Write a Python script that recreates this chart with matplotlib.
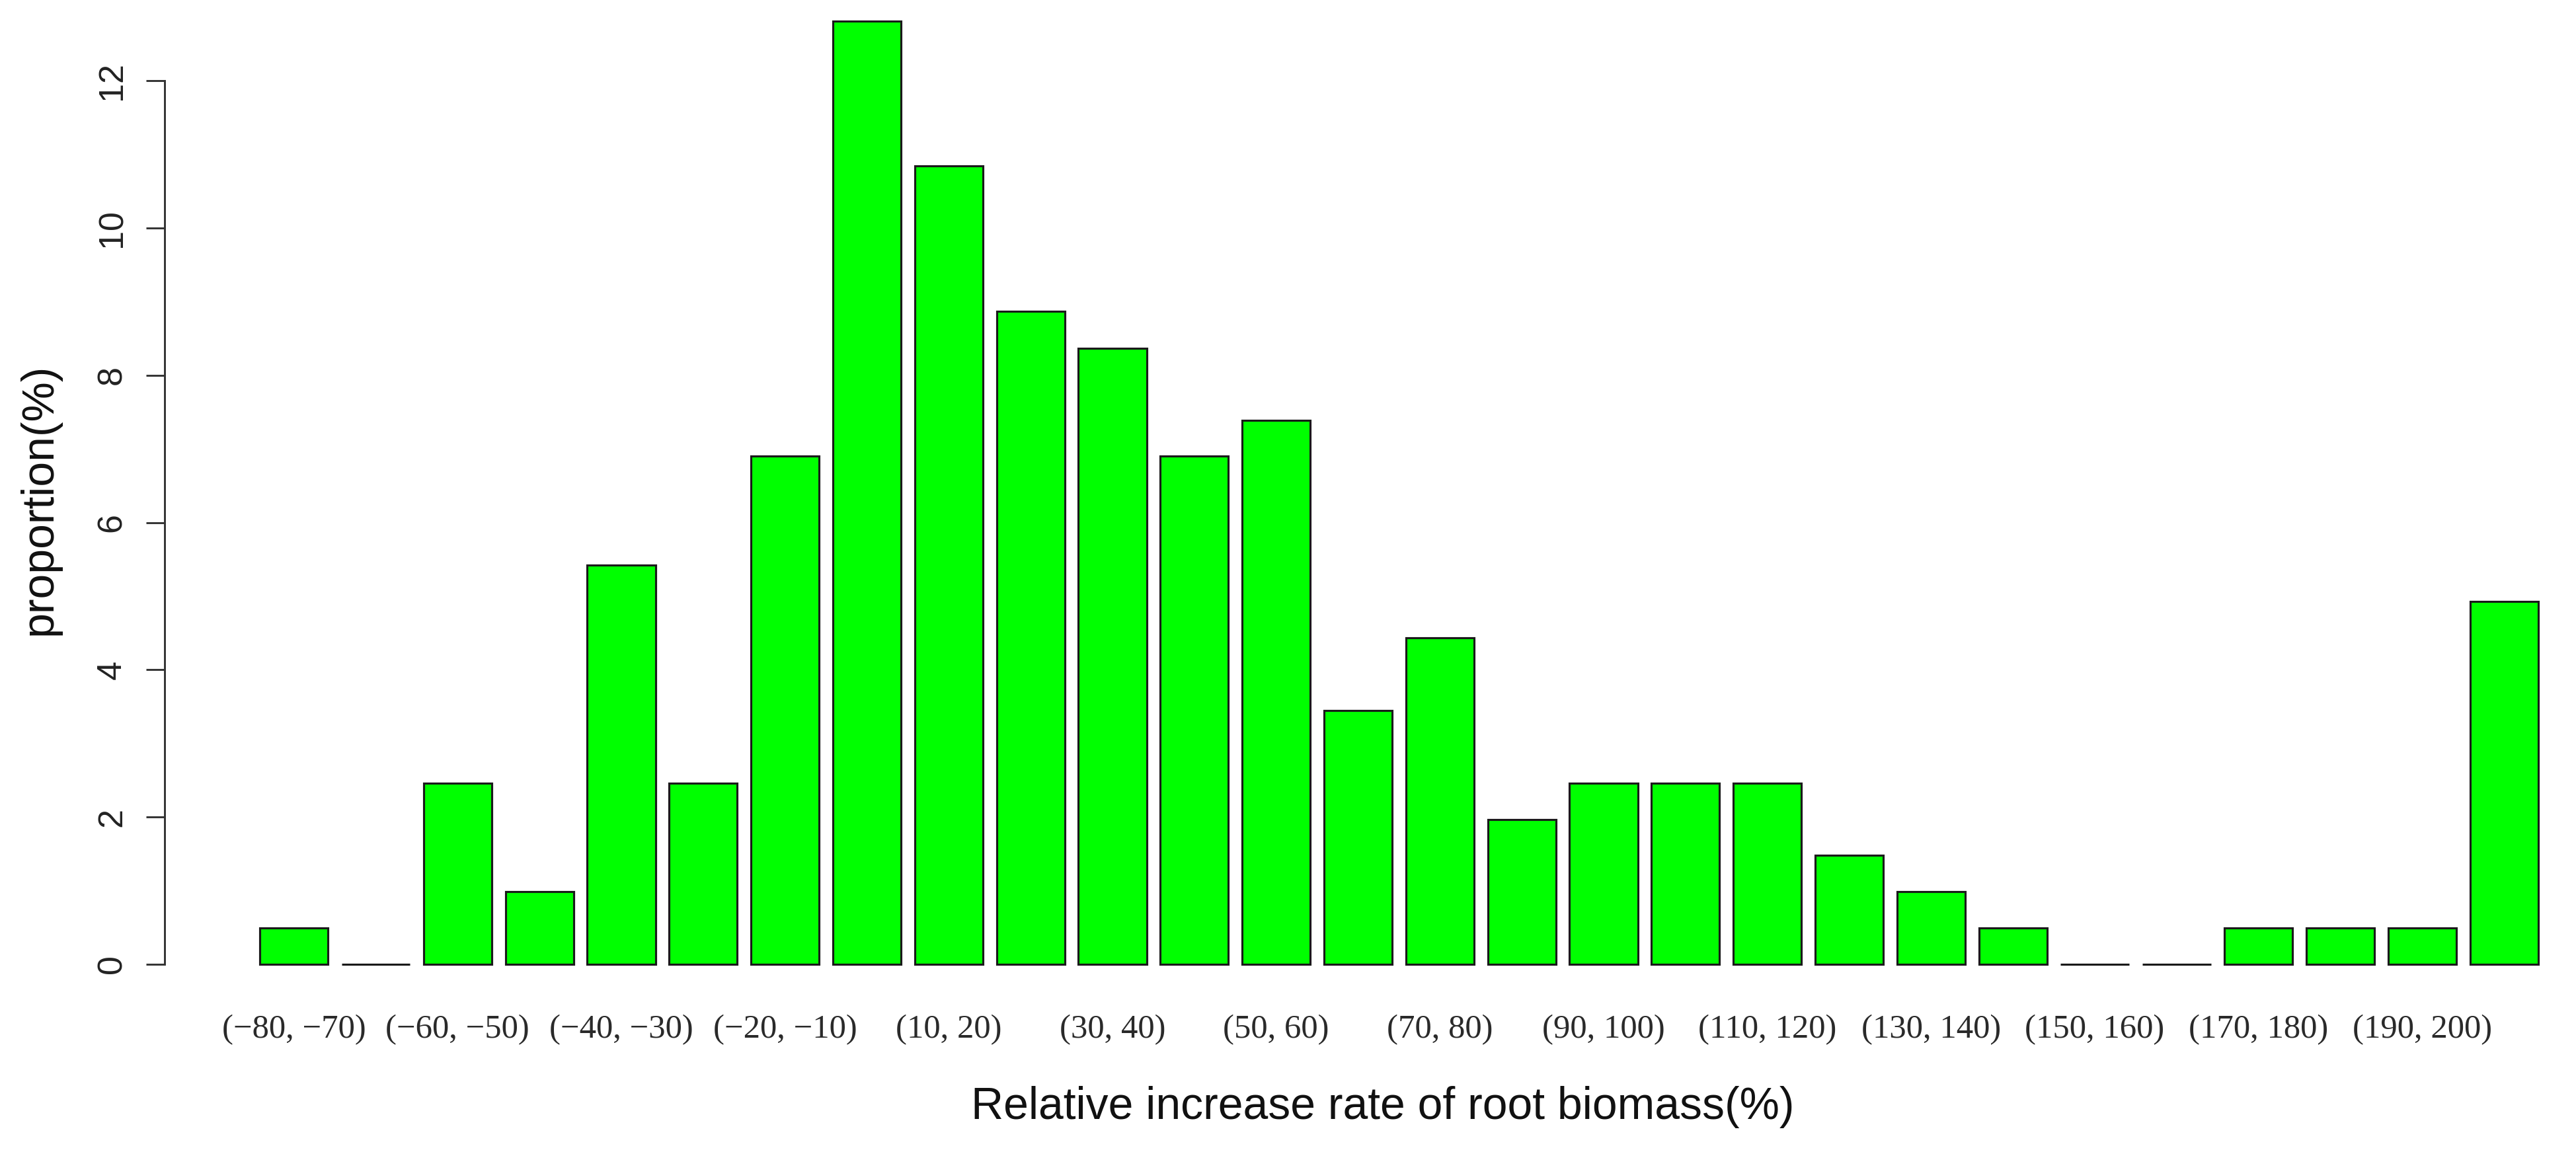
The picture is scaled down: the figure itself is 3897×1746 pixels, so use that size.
import numpy as np
import matplotlib.pyplot as plt

# bins of relative increase rate and their share of observations (%)
categories = ['(\u221280, \u221270)', '(\u221270, \u221260)', '(\u221260, \u221250)', '(\u221250, \u221240)',
              '(\u221240, \u221230)', '(\u221230, \u221220)', '(\u221220, \u221210)', '(\u221210, 10)',
              '(10, 20)', '(20, 30)', '(30, 40)', '(40, 50)', '(50, 60)', '(60, 70)',
              '(70, 80)', '(80, 90)', '(90, 100)', '(100, 110)', '(110, 120)', '(120, 130)',
              '(130, 140)', '(140, 150)', '(150, 160)', '(160, 170)', '(170, 180)', '(180, 190)',
              '(190, 200)', '(>200)']
proportion = [0.49, 0.0, 2.46, 0.99, 5.42, 2.46, 6.90, 12.81, 10.84, 8.87, 8.37, 6.90, 7.39, 3.45,
              4.43, 1.97, 2.46, 2.46, 2.46, 1.48, 0.99, 0.49, 0.0, 0.0, 0.49, 0.49, 0.49, 4.93]
yticks = [0, 2, 4, 6, 8, 10, 12]

W, H = 3897, 1746
fig = plt.figure(figsize=(W / 300, H / 300), dpi=300)
ax = fig.add_axes([249 / W, 1 - 1516 / H, 1 - 249 / W, 1516 / H])

x = 0.7 + 1.2 * np.arange(len(categories))
ax.bar(x, proportion, width=1.0, color='#00ff00', edgecolor='#1a1a1a', linewidth=0.75)

ax.set_xlim(0.2 - 144 / 103.2, 0.2 + (W - 393) / 103.2)
ax.set_ylim(-57 / 111.4, 1459 / 111.4)

for s in ['top', 'right', 'bottom']:
    ax.spines[s].set_visible(False)
ax.spines['left'].set_bounds(0, 12)
ax.spines['left'].set_linewidth(0.7)
ax.spines['left'].set_color('#333333')

ax.set_yticks(yticks)
ax.set_yticklabels([str(t) for t in yticks], rotation=90, va='center',
                   fontsize=12.5, family='Liberation Sans', color='#222222')
ax.tick_params(axis='y', length=6.7, width=0.7, pad=6.5, color='#333333')

ax.set_xticks(x[::2])
ax.set_xticklabels(categories[::2], fontsize=12.2, family='Liberation Serif', color='#2a2a2a')
ax.tick_params(axis='x', length=0, pad=4.5)

fig.text(2092 / W, 1 - 1675 / H, 'Relative increase rate of root biomass(%)', ha='center', va='center',
         fontsize=16.3, family='Liberation Sans', color='#111111')
fig.text(60 / W, 1 - 755 / H, 'proportion(%)', ha='center', va='center', rotation=90,
         fontsize=16.3, family='Liberation Sans', color='#111111')

fig.savefig('out.png', dpi=300)
